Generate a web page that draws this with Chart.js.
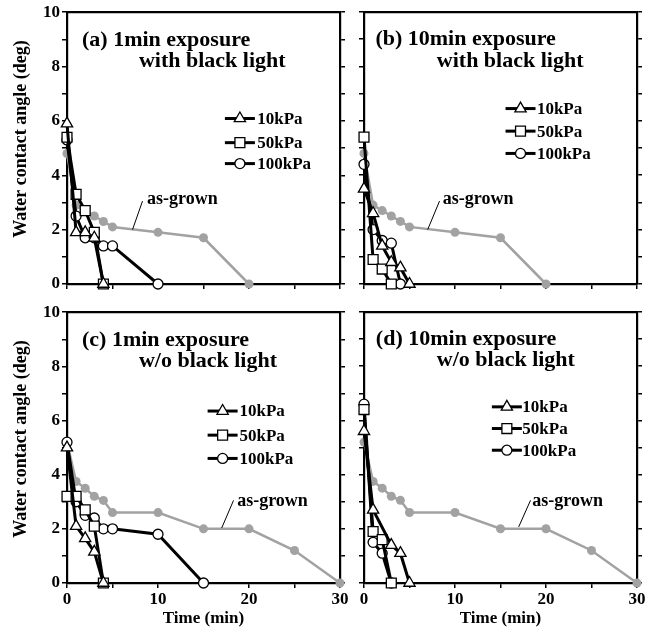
<!DOCTYPE html>
<html>
<head>
<meta charset="utf-8">
<script src="https://cdn.jsdelivr.net/npm/chart.js@4.4.0/dist/chart.umd.min.js"></script>
<style>
  body { margin: 0; background: #fff; }
  #wrap { position: relative; width: 654px; height: 632px; }
  #wrap canvas { position: absolute; }
</style>
</head>
<body>
<div id="wrap">
  <canvas id="panelA" width="352" height="300" style="left:0;top:0"></canvas>
  <canvas id="panelB" width="302" height="300" style="left:352px;top:0"></canvas>
  <canvas id="panelC" width="352" height="332" style="left:0;top:300px"></canvas>
  <canvas id="panelD" width="302" height="332" style="left:352px;top:300px"></canvas>
</div>
<script>
// --- data (time in min, contact angle in deg) ---
const pressures = ['10kPa', '50kPa', '100kPa'];

const grownX = [0, 1, 2, 3, 4, 5, 10, 15, 20];
const grownWith = [4.8, 2.9, 2.7, 2.5, 2.3, 2.1, 1.9, 1.7, 0];
const grownX2 = [0, 1, 2, 3, 4, 5, 10, 15, 20, 25, 30];
const grownWithout = [5.2, 3.75, 3.5, 3.2, 3.05, 2.6, 2.6, 2.0, 2.0, 1.2, 0];

// (a) 1min exposure with black light
const a10X = [0, 1, 2, 3, 4];            const a10 = [5.9, 1.9, 1.9, 1.7, 0];
const a50X = [0, 1, 2, 3, 4];            const a50 = [5.4, 3.3, 2.7, 1.9, 0];
const a100X = [0, 1, 2, 3, 4, 5, 10];    const a100 = [5.3, 2.5, 1.7, 1.7, 1.4, 1.4, 0];

// (b) 10min exposure with black light
const b10X = [0, 1, 2, 3, 4, 5];         const b10 = [3.5, 2.6, 1.4, 0.8, 0.6, 0];
const b50X = [0, 1, 2, 3];               const b50 = [5.4, 0.9, 0.55, 0];
const b100X = [0, 1, 2, 3, 4];           const b100 = [4.4, 2.0, 1.6, 1.5, 0];

// (c) 1min exposure w/o black light
const c10X = [0, 1, 2, 3, 4];            const c10 = [5.0, 2.1, 1.65, 1.15, 0];
const c50X = [0, 1, 2, 3, 4];            const c50 = [3.2, 3.2, 2.7, 2.1, 0];
const c100X = [0, 1, 2, 3, 4, 5, 10, 15]; const c100 = [5.2, 3.0, 2.5, 2.4, 2.0, 2.0, 1.8, 0];

// (d) 10min exposure w/o black light
const d10X = [0, 1, 3, 4, 5];            const d10 = [5.6, 2.7, 1.4, 1.1, 0];
const d50X = [0, 1, 2, 3];               const d50 = [6.4, 1.9, 1.6, 0];
const d100X = [0, 1, 2, 3];              const d100 = [6.6, 1.5, 1.1, 0];

const FONT = '"Liberation Serif", "Times New Roman", serif';
const GREY = '#a2a2a2';
const markers = ['triangle', 'rect', 'circle'];
const markerSize = [6.5, 7, 5];

function pts(xs, ys) {
    return xs.map((x, i) => ({ x: x, y: ys[i] }));
}

function drawMarker(ctx, style, r, x, y) {
    ctx.save();
    ctx.fillStyle = '#fff';
    ctx.strokeStyle = '#000';
    ctx.lineWidth = 1.3;
    if (window.Chart && Chart.helpers && Chart.helpers.drawPoint) {
        Chart.helpers.drawPoint(ctx, { pointStyle: style, radius: r, rotation: 0, borderWidth: 1.3 }, x, y);
    }
    ctx.restore();
}

// texts, legend and "as-grown" note drawn inside each panel
const panelText = {
    id: 'panelText',
    afterDraw(chart, args, o) {
        const ctx = chart.ctx;
        const px = v => chart.scales.x.getPixelForValue(v);
        const py = v => chart.scales.y.getPixelForValue(v);
        const area = chart.chartArea;
        ctx.save();
        ctx.fillStyle = '#000';
        ctx.textBaseline = 'middle';
        ctx.textAlign = 'left';

        ctx.font = 'bold 22px ' + FONT;
        ctx.fillText(o.title[0], px(o.titleX[0]), py(8.98));
        ctx.fillText(o.title[1], px(o.titleX[1]), py(8.2));

        // legend
        ctx.font = 'bold 17px ' + FONT;
        o.legend.rows.forEach((ry, i) => {
            const mx = px(o.legend.mx), my = py(ry);
            ctx.strokeStyle = '#000';
            ctx.lineWidth = 3;
            ctx.beginPath();
            ctx.moveTo(mx - 15, my);
            ctx.lineTo(mx + 15, my);
            ctx.stroke();
            drawMarker(ctx, markers[i], markerSize[i], mx, my);
            ctx.fillStyle = '#000';
            ctx.fillText(pressures[i], px(o.legend.tx), my + 1);
        });

        // as-grown label with leader
        const g = o.grown;
        ctx.font = 'bold 18px ' + FONT;
        ctx.fillText('as-grown', px(g.tx), py(g.ty));
        ctx.strokeStyle = '#000';
        ctx.lineWidth = 1;
        ctx.beginPath();
        ctx.moveTo(px(g.from[0]), py(g.from[1]));
        ctx.lineTo(px(g.to[0]), py(g.to[1]));
        ctx.stroke();

        // axis titles
        if (o.yTitle) {
            ctx.save();
            ctx.font = 'bold 18px ' + FONT;
            ctx.textAlign = 'center';
            ctx.translate(21, 139);
            ctx.rotate(-Math.PI / 2);
            ctx.fillText('Water contact angle (deg)', 0, 0);
            ctx.restore();
        }
        if (o.xTitle) {
            ctx.font = 'bold 17px ' + FONT;
            ctx.textAlign = 'center';
            ctx.fillText('Time (min)', (area.left + area.right) / 2, 319);
        }
        ctx.restore();
    }
};

function buildScales(p) {
    const grid = { drawOnChartArea: false, drawTicks: true, tickLength: 5, color: '#000', lineWidth: 1.5 };
    const border = { display: true, width: 2.2, color: '#000' };
    const tickFont = { family: FONT, size: 17, weight: 'bold' };
    return {
        x: {
            type: 'linear', position: 'bottom', min: 0, max: 30,
            border: border, grid: grid,
            ticks: {
                display: p.xLabels, stepSize: 5, autoSkip: false, maxRotation: 0, padding: 1,
                color: '#000', font: tickFont,
                callback: v => (v % 10 === 0 ? String(v) : '')
            },
            afterFit: s => { s.height = p.box.bottom; }
        },
        xTop: {
            type: 'linear', position: 'top', min: 0, max: 30,
            border: border, grid: { drawOnChartArea: false, drawTicks: false },
            ticks: { display: false },
            afterFit: s => { s.height = p.box.top; }
        },
        y: {
            type: 'linear', position: 'left', min: 0, max: 10,
            border: border, grid: grid,
            ticks: {
                display: p.yLabels, stepSize: 1, autoSkip: false, padding: 2,
                color: '#000', font: tickFont,
                callback: v => (v % 2 === 0 ? String(v) : '')
            },
            afterFit: s => { s.width = p.box.left; }
        },
        yRight: {
            type: 'linear', position: 'right', min: 0, max: 10,
            border: border, grid: grid,
            ticks: { display: false, stepSize: 1 },
            afterFit: s => { s.width = p.box.right; }
        }
    };
}

function buildDatasets(p) {
    const sets = p.series.map((s, i) => ({
        label: pressures[i],
        data: pts(s[0], s[1]),
        xAxisID: 'x', yAxisID: 'y',
        borderColor: '#000', borderWidth: 3,
        pointStyle: markers[i], pointRadius: markerSize[i], pointHoverRadius: markerSize[i],
        pointBackgroundColor: '#fff', pointBorderColor: '#000', pointBorderWidth: 1.3,
        tension: 0, clip: false, order: i
    }));
    sets.push({
        label: 'as-grown',
        data: pts(p.grown[0], p.grown[1]),
        xAxisID: 'x', yAxisID: 'y',
        borderColor: GREY, borderWidth: 2.5,
        pointStyle: 'circle', pointRadius: 4.5, pointHoverRadius: 4.5,
        pointBackgroundColor: GREY, pointBorderColor: GREY, pointBorderWidth: 0,
        tension: 0, clip: false, order: 10
    });
    return sets;
}

const panels = [
    {
        id: 'panelA', title: ['(a) 1min exposure', 'with black light'], titleX: [1.65, 7.9],
        series: [[a10X, a10], [a50X, a50], [a100X, a100]], grown: [grownX, grownWith],
        box: { left: 67, right: 12, top: 12, bottom: 16 }, yLabels: true, xLabels: false,
        legend: { mx: 19.0, tx: 20.9, rows: [6.09, 5.2, 4.43] },
        note: { tx: 8.8, ty: 3.1, from: [8.3, 3.05], to: [7.2, 2.0] }
    },
    {
        id: 'panelB', title: ['(b) 10min exposure', 'with black light'], titleX: [1.25, 8.0],
        series: [[b10X, b10], [b50X, b50], [b100X, b100]], grown: [grownX, grownWith],
        box: { left: 12, right: 17, top: 12, bottom: 16 }, yLabels: false, xLabels: false,
        legend: { mx: 17.2, tx: 19.0, rows: [6.45, 5.62, 4.8] },
        note: { tx: 8.65, ty: 3.1, from: [8.3, 3.05], to: [7.0, 2.0] }
    },
    {
        id: 'panelC', title: ['(c) 1min exposure', 'w/o black light'], titleX: [1.65, 7.9],
        series: [[c10X, c10], [c50X, c50], [c100X, c100]], grown: [grownX2, grownWithout],
        box: { left: 67, right: 12, top: 12, bottom: 49 }, yLabels: true, xLabels: true,
        legend: { mx: 17.1, tx: 18.95, rows: [6.35, 5.46, 4.6] },
        note: { tx: 18.7, ty: 3.0, from: [18.3, 3.05], to: [17.0, 2.03] }
    },
    {
        id: 'panelD', title: ['(d) 10min exposure', 'w/o black light'], titleX: [1.3, 8.0],
        series: [[d10X, d10], [d50X, d50], [d100X, d100]], grown: [grownX2, grownWithout],
        box: { left: 12, right: 17, top: 12, bottom: 49 }, yLabels: false, xLabels: true,
        legend: { mx: 15.7, tx: 17.4, rows: [6.5, 5.7, 4.9] },
        note: { tx: 18.5, ty: 3.0, from: [18.3, 3.05], to: [17.0, 2.07] }
    }
];

panels.forEach(p => {
    new Chart(document.getElementById(p.id), {
        type: 'line',
        data: { datasets: buildDatasets(p) },
        options: {
            responsive: false,
            animation: false,
            devicePixelRatio: 1,
            events: [],
            layout: { padding: 0 },
            scales: buildScales(p),
            plugins: {
                legend: { display: false },
                tooltip: { enabled: false },
                panelText: {
                    title: p.title, titleX: p.titleX, legend: p.legend, grown: p.note,
                    yTitle: p.yLabels, xTitle: p.xLabels
                }
            }
        },
        plugins: [panelText]
    });
});
</script>
</body>
</html>
